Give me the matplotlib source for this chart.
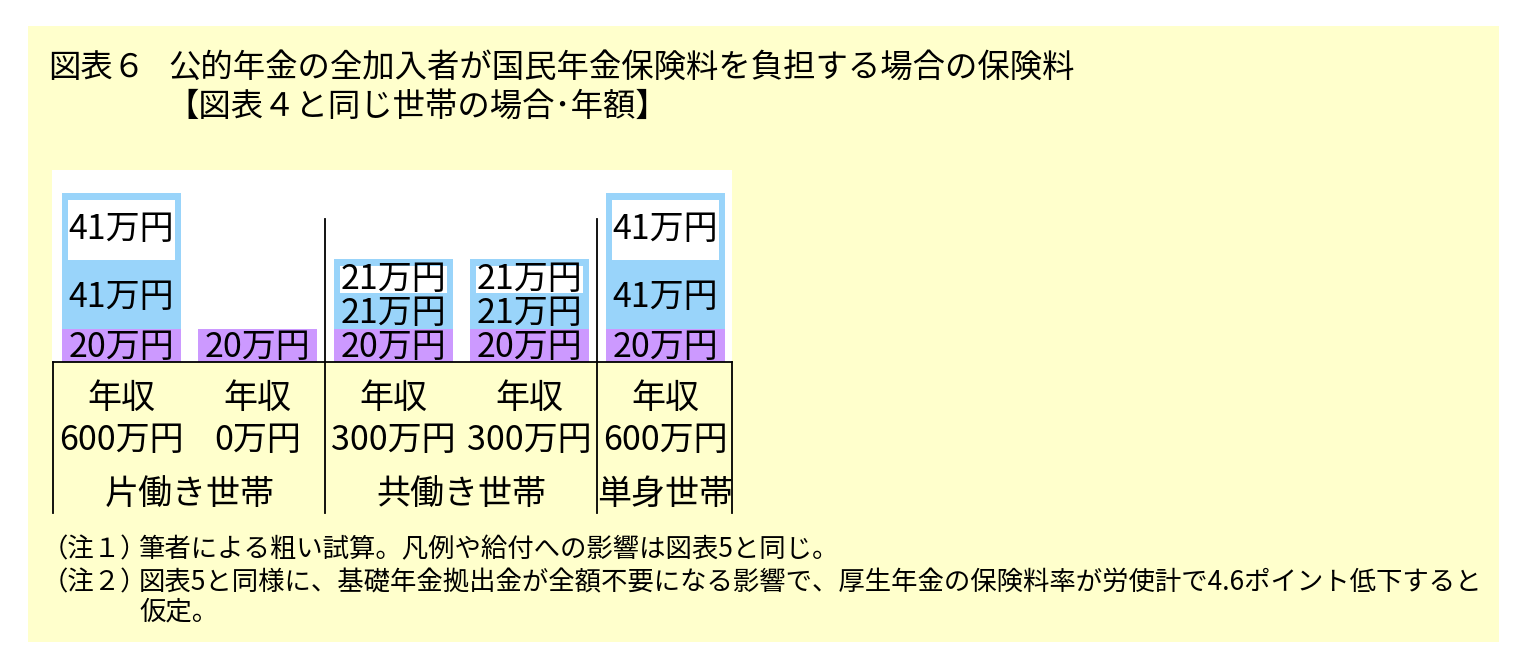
import numpy as np
import matplotlib.pyplot as plt
from matplotlib.patches import Rectangle

plt.rcParams['font.family'] = ['Noto Sans CJK JP', 'DejaVu Sans']

# データ（万円／年）
nenshu = ['600万円', '0万円', '300万円', '300万円', '600万円']
kokumin = [20, 20, 20, 20, 20]        # 国民年金保険料（本人）
kosei_honnin = [41, 0, 21, 21, 41]    # 厚生年金保険料（本人負担）
kosei_jigyo = [41, 0, 21, 21, 41]     # 厚生年金保険料（事業主負担）
setai = ['片働き世帯', '共働き世帯', '単身世帯']
setai_haba = [2, 2, 1]

title_no = '図表６'
title1 = '公的年金の全加入者が国民年金保険料を負担する場合の保険料'
title2 = '【図表４と同じ世帯の場合･年額】'
chu_label = ['（注１）', '（注２）', '']
chu_text = ['筆者による粗い試算。凡例や給付への影響は図表5と同じ。',
            '図表5と同様に、基礎年金拠出金が全額不要になる影響で、厚生年金の保険料率が労使計で4.6ポイント低下すると',
            '仮定。']

W, H = 1528, 665
fig = plt.figure(figsize=(W / 100, H / 100), dpi=100)
fig.patch.set_facecolor('white')

def fx(px):
    return px / W

def fy(py):
    return 1 - py / H

# 黄色の背景パネル
fig.patches.append(Rectangle((fx(28), fy(642)), fx(1499) - fx(28), fy(26) - fy(642),
                             transform=fig.transFigure, facecolor='#FFFFCC',
                             edgecolor='none', zorder=-5))

fig.text(fx(48), fy(68), title_no, fontsize=23.3, va='center', ha='left')
fig.text(fx(168), fy(68), title1, fontsize=23.3, va='center', ha='left')
fig.text(fx(166), fy(107), title2, fontsize=23.3, va='center', ha='left')

ax = fig.add_axes([fx(52), fy(362), fx(732) - fx(52), fy(170) - fy(362)])
ax.set_facecolor('white')
for s in ax.spines.values():
    s.set_visible(False)
ax.set_xticks([])
ax.set_yticks([])

x = np.arange(len(nenshu))
ymax = 116
ax.set_xlim(-0.51, 4.49)
ax.set_ylim(0, ymax)

blue = '#99D4FA'
purple = '#CC99FF'
w = 0.88

kokumin = np.array(kokumin)
kosei_honnin = np.array(kosei_honnin)
kosei_jigyo = np.array(kosei_jigyo)

ax.bar(x, kokumin, width=w, color=purple, zorder=2)
ax.bar(x, kosei_honnin, bottom=kokumin, width=w, color=blue, zorder=2)
ax.bar(x, kosei_jigyo, bottom=kokumin + kosei_honnin, width=w, color=blue, zorder=2)
# 事業主負担分は白抜き
mx, mt, mb = 0.045, 4.2, 0.6
top_b = kokumin + kosei_honnin
has = kosei_jigyo > 0
ax.bar(x[has], kosei_jigyo[has] - mt - mb, bottom=top_b[has] + mb,
       width=w - 2 * mx, color='white', zorder=3)

fs = 24.5
for i in x:
    ax.text(i, kokumin[i] / 2 - 1.5, f'{kokumin[i]}万円', ha='center', va='center',
            fontsize=fs, zorder=5)
    if kosei_honnin[i] > 0:
        ax.text(i, kokumin[i] + kosei_honnin[i] / 2 - 1.5, f'{kosei_honnin[i]}万円',
                ha='center', va='center', fontsize=fs, zorder=5)
    if kosei_jigyo[i] > 0:
        ax.text(i, top_b[i] + kosei_jigyo[i] / 2 - 1.5, f'{kosei_jigyo[i]}万円',
                ha='center', va='center', fontsize=fs, zorder=5)

# 表部分（罫線と見出し）
pxu = 192 / ymax
def yd(py):
    return (362 - py) / pxu

ybot = yd(513)
lk = dict(color='black', lw=1.3, clip_on=False, zorder=6)
ax.plot([-0.5, 4.49], [0, 0], **lk)
ax.plot([-0.5, -0.5], [0, ybot], **lk)
ax.plot([4.49, 4.49], [0, ybot], **lk)
edges = np.cumsum(setai_haba)[:-1] - 0.5
for e in edges:
    ax.plot([e, e], [yd(219), ybot], **lk)

tfs = 24.5
for i in x:
    ax.text(i, yd(399), '年収', ha='center', va='center', fontsize=tfs, clip_on=False)
    ax.text(i, yd(441), nenshu[i], ha='center', va='center', fontsize=tfs, clip_on=False)
start = 0
for name, n in zip(setai, setai_haba):
    ax.text(start + (n - 1) / 2, yd(495), name, ha='center', va='center',
            fontsize=tfs, clip_on=False)
    start += n

# 注記
for py, lab, txt in zip([550, 583, 612], chu_label, chu_text):
    fig.text(fx(42), fy(py), lab, fontsize=19, va='center', ha='left')
    fig.text(fx(139), fy(py), txt, fontsize=19, va='center', ha='left')

fig.savefig('out.png', dpi=100, facecolor='white')
